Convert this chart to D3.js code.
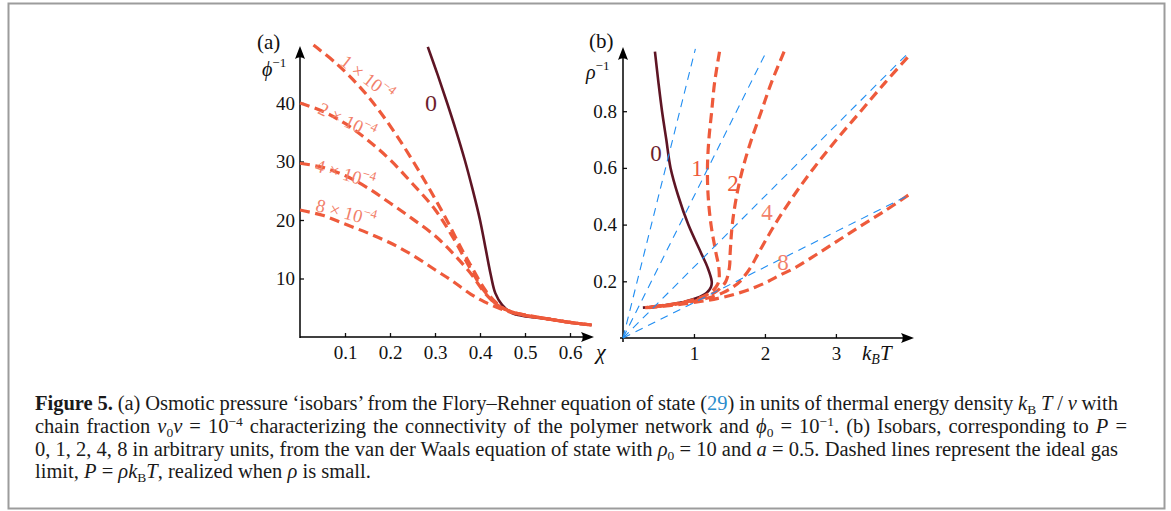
<!DOCTYPE html>
<html>
<head>
<meta charset="utf-8">
<script src="https://cdn.jsdelivr.net/npm/d3@7"></script>
<style>
body { margin: 0; background: #fff; }
svg { display: block; }
</style>
</head>
<body>
<svg id="fig" width="1171" height="511"></svg>
<script>
// ---- panel (a): Flory-Rehner isobars, chi vs 1/phi ----
const chiTicks = [0.1, 0.2, 0.3, 0.4, 0.5, 0.6];
const phiInvTicks = [10, 20, 30, 40];

const chiZero = [0.284, 0.306, 0.327, 0.347, 0.366, 0.384, 0.400, 0.413, 0.424, 0.434, 0.449, 0.471, 0.496, 0.55, 0.607, 0.648];
const phiInvZero = [49.6, 44.8, 40.0, 35.2, 30.3, 25.1, 20.0, 14.9, 10.6, 7.5, 5.5, 4.1, 3.6, 3.1, 2.4, 2.05];

const chi1e4 = [0.03, 0.08, 0.13, 0.17, 0.21, 0.25, 0.29, 0.326, 0.36, 0.385, 0.41, 0.43, 0.45, 0.47, 0.50, 0.55, 0.60, 0.648];
const phiInv1e4 = [49.9, 46.8, 43.0, 39.3, 35.0, 30.2, 25.0, 20.0, 14.9, 11.5, 8.2, 6.3, 5.0, 4.3, 3.8, 3.1, 2.5, 2.05];

const chiDash = [0, 0.05, 0.10, 0.15, 0.20, 0.25, 0.30, 0.34, 0.38, 0.41, 0.44, 0.47, 0.50, 0.55, 0.60, 0.648];
const phiInv2e4 = [40.0, 38.6, 36.5, 33.7, 30.3, 26.2, 21.8, 17.0, 11.5, 7.8, 5.4, 4.3, 3.7, 3.1, 2.5, 2.05];
const phiInv4e4 = [29.7, 29.0, 27.6, 25.5, 22.9, 20.2, 17.3, 14.3, 10.8, 7.6, 5.4, 4.3, 3.7, 3.1, 2.5, 2.05];
const phiInv8e4 = [21.7, 20.8, 19.3, 17.8, 16.1, 14.0, 11.5, 9.5, 7.3, 6.0, 5.0, 4.2, 3.7, 3.1, 2.5, 2.05];

const labelsA = ["1", "2", "4", "8"];

// ---- panel (b): van der Waals isobars, kT vs 1/rho ----
const kTTicks = [1, 2, 3];
const rhoInvTicks = [0.2, 0.4, 0.6, 0.8];

const rhoInvP0 = [1.01, 0.9, 0.8, 0.7, 0.6, 0.5, 0.4, 0.3, 0.25, 0.2, 0.18, 0.16, 0.14, 0.13, 0.12, 0.11, 0.107];
const kTP0 = [0.45, 0.50, 0.55, 0.61, 0.67, 0.78, 0.92, 1.10, 1.19, 1.25, 1.24, 1.18, 1.03, 0.90, 0.70, 0.42, 0.28];

const rhoInvP1 = [1.01, 0.9, 0.8, 0.7, 0.6, 0.5, 0.4, 0.3, 0.25, 0.2, 0.18, 0.16, 0.14, 0.12, 0.107];
const kTP1 = [1.36, 1.29, 1.25, 1.21, 1.19, 1.20, 1.24, 1.31, 1.35, 1.35, 1.31, 1.23, 1.06, 0.71, 0.31];

const rhoInvP2 = [1.01, 0.9, 0.8, 0.7, 0.6, 0.5, 0.4, 0.3, 0.25, 0.2, 0.18, 0.16, 0.14, 0.12, 0.107];
const kTP2 = [2.27, 2.09, 1.95, 1.81, 1.69, 1.60, 1.54, 1.51, 1.50, 1.45, 1.39, 1.29, 1.10, 0.73, 0.32];

const rhoInvP4 = [0.99, 0.9, 0.8, 0.7, 0.6, 0.5, 0.4, 0.3, 0.25, 0.2, 0.18, 0.16, 0.14, 0.12, 0.107];
const kTP4 = [4.01, 3.69, 3.35, 3.01, 2.69, 2.40, 2.14, 1.91, 1.80, 1.65, 1.55, 1.41, 1.18, 0.77, 0.33];

const rhoInvP8 = [0.504, 0.45, 0.4, 0.35, 0.3, 0.25, 0.22, 0.2, 0.18, 0.16, 0.14, 0.12, 0.107];
const kTP8 = [4.02, 3.70, 3.38, 3.07, 2.76, 2.44, 2.20, 2.05, 1.87, 1.65, 1.34, 0.85, 0.36];

// ideal gas lines P = rho kT, origin to the edge of the plot
const idealKT = [[0, 1.02], [0, 2.03], [0, 4.03], [0, 4.03]];
const idealRhoInv = [[0, 1.02], [0, 1.015], [0, 1.008], [0, 0.504]];

const labelsB = ["0", "1", "2", "4", "8"];

// ---- caption ----
const captionLines = [
    [["Figure 5.", "b"], [" (a) Osmotic pressure \u2018isobars\u2019 from the Flory\u2013Rehner equation of state ("], ["29", "link"], [") in units of thermal energy density "], ["k", "i"], ["B", "sub"], [" T", "i"], [" / "], ["\u03bd", "i"], [" with"]],
    [["chain fraction "], ["\u03bd", "i"], ["0", "sub"], ["\u03bd", "i"], [" = 10"], ["\u22124", "sup"], [" characterizing the connectivity of the polymer network and "], ["\u03d5", "i"], ["0", "sub"], [" = 10"], ["\u22121", "sup"], [". (b) Isobars, corresponding to "], ["P", "i"], [" ="]],
    [["0, 1, 2, 4, 8 in arbitrary units, from the van der Waals equation of state with "], ["\u03c1", "i"], ["0", "sub"], [" = 10 and "], ["a", "i"], [" = 0.5. Dashed lines represent the ideal gas"]],
    [["limit, "], ["P", "i"], [" = "], ["\u03c1k", "i"], ["B", "sub"], ["T", "i"], [", realized when "], ["\u03c1", "i"], [" is small."]]
];
const captionRight = [1118, 1127, 1118, null];

const serif = "'Liberation Serif', 'DejaVu Serif', serif";
const red = "#ee5a3b";
const redLight = "#f2806a";
const maroon = "#5e1524";
const blue = "#1f8df2";

let svg = d3.select("#fig");

// frame
svg.append("rect")
    .attr("x", 8.5).attr("y", 3.5)
    .attr("width", 1156).attr("height", 505)
    .attr("fill", "none")
    .attr("stroke", "#9c9c9c")
    .attr("stroke-width", 2);

function arrow(g, x, y, angle) {
    g.append("path")
        .attr("d", "M0,0 L-13,-5 Q-9.5,0 -13,5 Z")
        .attr("transform", "translate(" + x + "," + y + ") rotate(" + angle + ")")
        .attr("fill", "#000");
}

function styleAxis(g) {
    g.select(".domain").remove();
    g.selectAll("text").attr("font-family", serif).attr("font-size", 19).attr("fill", "#111");
    g.selectAll("line").attr("stroke", "#111").attr("stroke-width", 1.3);
}

// ================= panel (a) =================
let xA = d3.scaleLinear().domain([0, 0.65]).range([300, 592.5]);
let yA = d3.scaleLinear().domain([0, 50]).range([337, 44.5]);

let gA = svg.append("g");

gA.append("g")
    .attr("transform", "translate(0," + yA(0) + ")")
    .call(d3.axisBottom(xA).tickValues(chiTicks).tickSize(-4).tickPadding(9).tickFormat(d3.format(".1f")))
    .call(styleAxis);
gA.append("g")
    .attr("transform", "translate(" + xA(0) + ",0)")
    .call(d3.axisLeft(yA).tickValues(phiInvTicks).tickSize(-4).tickPadding(5).tickFormat(d3.format("d")))
    .call(styleAxis);

gA.append("line").attr("x1", xA(0)).attr("x2", 590).attr("y1", yA(0)).attr("y2", yA(0))
    .attr("stroke", "#000").attr("stroke-width", 1.5);
gA.append("line").attr("x1", xA(0)).attr("x2", xA(0)).attr("y1", yA(0) + 1).attr("y2", 50)
    .attr("stroke", "#000").attr("stroke-width", 1.5);
arrow(gA, 594, yA(0), 0);
arrow(gA, xA(0), 46, -90);

let lineA = d3.line()
    .x(d => xA(d[0]))
    .y(d => yA(d[1]))
    .curve(d3.curveCatmullRom.alpha(0.5));

gA.append("path")
    .attr("d", lineA(d3.zip(chiZero, phiInvZero)))
    .attr("fill", "none").attr("stroke", maroon).attr("stroke-width", 2.6);

let dashedA = [
    d3.zip(chi1e4, phiInv1e4),
    d3.zip(chiDash, phiInv2e4),
    d3.zip(chiDash, phiInv4e4),
    d3.zip(chiDash, phiInv8e4)
];
gA.selectAll("path.iso")
    .data(dashedA)
    .enter()
    .append("path")
    .attr("class", "iso")
    .attr("d", lineA)
    .attr("fill", "none").attr("stroke", red)
    .attr("stroke-width", 3.2).attr("stroke-dasharray", "10,5.5");

// rotated labels on the dashed isobars
let labelPlaceA = [[367, 78, 38], [347, 121, 26], [345, 174, 17], [346, 213, 15]];
labelsA.forEach(function (lab, i) {
    let p = labelPlaceA[i];
    let t = gA.append("text")
        .attr("transform", "translate(" + p[0] + "," + p[1] + ") rotate(" + p[2] + ")")
        .attr("text-anchor", "middle")
        .attr("dominant-baseline", "central")
        .attr("font-family", serif).attr("font-size", 18.5)
        .attr("fill", redLight);
    t.append("tspan").text(lab + " \u00d7 10");
    t.append("tspan").text("\u22124").attr("font-size", 13).attr("baseline-shift", "7");
});

gA.append("text").attr("x", 431).attr("y", 111)
    .attr("text-anchor", "middle")
    .attr("font-family", serif).attr("font-size", 24)
    .attr("fill", "#6e1f2e").text("0");

gA.append("text").attr("x", 257).attr("y", 49)
    .attr("font-family", serif).attr("font-size", 21).attr("fill", "#111").text("(a)");

let phiLab = gA.append("text").attr("x", 262).attr("y", 76)
    .attr("font-family", serif).attr("font-size", 20).attr("fill", "#111");
phiLab.append("tspan").text("\u03d5").attr("font-style", "italic");
phiLab.append("tspan").text("\u22121").attr("font-size", 13).attr("baseline-shift", "9");

gA.append("text").attr("x", 596).attr("y", 359)
    .attr("font-family", serif).attr("font-size", 22).attr("font-style", "italic")
    .attr("fill", "#111").text("\u03c7");

// ================= panel (b) =================
let xB = d3.scaleLinear().domain([0, 4.03]).range([623, 909]);
let yB = d3.scaleLinear().domain([0, 1.0]).range([338, 54.5]);

let gB = svg.append("g");

gB.append("g")
    .attr("transform", "translate(0," + yB(0) + ")")
    .call(d3.axisBottom(xB).tickValues(kTTicks).tickSize(-4).tickPadding(9).tickFormat(d3.format("d")))
    .call(styleAxis);
gB.append("g")
    .attr("transform", "translate(" + xB(0) + ",0)")
    .call(d3.axisLeft(yB).tickValues(rhoInvTicks).tickSize(-4).tickPadding(6).tickFormat(d3.format(".1f")))
    .call(styleAxis);

gB.append("line").attr("x1", xB(0) - 3).attr("x2", 910).attr("y1", yB(0)).attr("y2", yB(0))
    .attr("stroke", "#000").attr("stroke-width", 1.5);
gB.append("line").attr("x1", xB(0)).attr("x2", xB(0)).attr("y1", yB(0) + 4).attr("y2", 52)
    .attr("stroke", "#000").attr("stroke-width", 1.5);
arrow(gB, 914, yB(0), 0);
arrow(gB, xB(0), 47, -90);

let lineB = d3.line()
    .x(d => xB(d[0]))
    .y(d => yB(d[1]))
    .curve(d3.curveCatmullRom.alpha(0.5));

gB.append("path")
    .attr("d", lineB(d3.zip(kTP0, rhoInvP0)))
    .attr("fill", "none").attr("stroke", maroon).attr("stroke-width", 2.6);

let dashedB = [
    d3.zip(kTP1, rhoInvP1),
    d3.zip(kTP2, rhoInvP2),
    d3.zip(kTP4, rhoInvP4),
    d3.zip(kTP8, rhoInvP8)
];
gB.selectAll("path.iso")
    .data(dashedB)
    .enter()
    .append("path")
    .attr("class", "iso")
    .attr("d", lineB)
    .attr("fill", "none").attr("stroke", red)
    .attr("stroke-width", 3.2).attr("stroke-dasharray", "10,5.5");

gB.selectAll("path.ideal")
    .data(idealKT.map((k, i) => d3.zip(k, idealRhoInv[i])))
    .enter()
    .append("path")
    .attr("class", "ideal")
    .attr("d", d3.line().x(d => xB(d[0])).y(d => yB(d[1])))
    .attr("fill", "none").attr("stroke", blue)
    .attr("stroke-width", 1.1).attr("stroke-dasharray", "8,6");

let labelPlaceB = [[656, 161], [697, 176], [733, 191], [767, 220], [783, 270]];
let labelColB = ["#6e1f2e", red, red, redLight, redLight];
labelsB.forEach(function (lab, i) {
    gB.append("text")
        .attr("x", labelPlaceB[i][0]).attr("y", labelPlaceB[i][1])
        .attr("text-anchor", "middle")
        .attr("font-family", serif).attr("font-size", 23)
        .attr("fill", labelColB[i]).text(lab);
});

gB.append("text").attr("x", 589).attr("y", 48)
    .attr("font-family", serif).attr("font-size", 21).attr("fill", "#111").text("(b)");

let rhoLab = gB.append("text").attr("x", 586).attr("y", 79)
    .attr("font-family", serif).attr("font-size", 20).attr("fill", "#111");
rhoLab.append("tspan").text("\u03c1").attr("font-style", "italic");
rhoLab.append("tspan").text("\u22121").attr("font-size", 13).attr("baseline-shift", "9");

let ktLab = gB.append("text").attr("x", 862).attr("y", 360)
    .attr("font-family", serif).attr("font-size", 21).attr("font-style", "italic").attr("fill", "#111");
ktLab.append("tspan").text("k");
ktLab.append("tspan").text("B").attr("font-size", 14).attr("baseline-shift", "-4");
ktLab.append("tspan").text("T");

// ================= caption =================
let captionY = [410, 433, 456, 478];
let cap = svg.append("g")
    .attr("font-family", serif)
    .attr("font-size", 20.5)
    .attr("fill", "#1a1a1a");

captionLines.forEach(function (segs, i) {
    let t = cap.append("text").attr("x", 35).attr("y", captionY[i]);
    let plain = "";
    segs.forEach(function (s) {
        let sp = t.append("tspan").text(s[0]);
        plain += s[0];
        if (s[1] === "b") sp.attr("font-weight", "bold");
        if (s[1] === "i") sp.attr("font-style", "italic");
        if (s[1] === "link") sp.attr("fill", "#2b8ccc");
        if (s[1] === "sub") sp.attr("font-size", 13.5).attr("baseline-shift", "-4");
        if (s[1] === "sup") sp.attr("font-size", 13.5).attr("baseline-shift", "7");
    });
    if (captionRight[i]) {
        let w = t.node().getComputedTextLength();
        let spaces = plain.split(" ").length - 1;
        t.attr("word-spacing", (captionRight[i] - 35 - w) / spaces);
    }
});
</script>
</body>
</html>
